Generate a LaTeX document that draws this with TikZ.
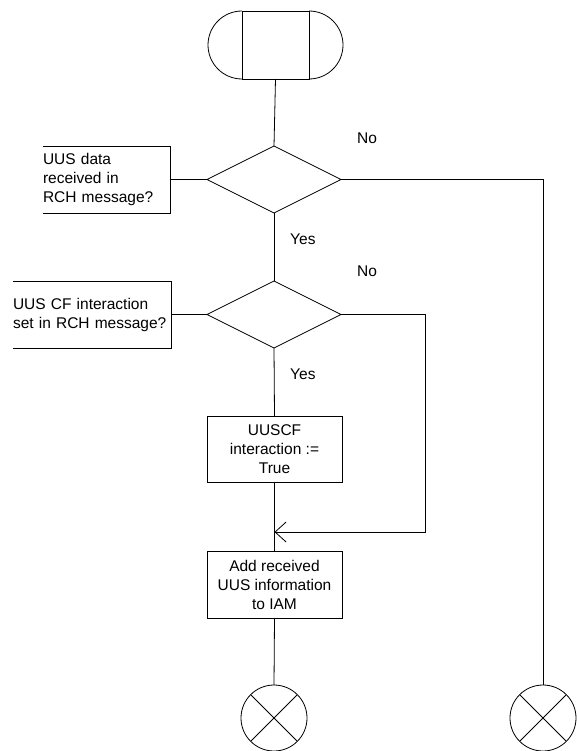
\documentclass[tikz,border=0pt]{standalone}
\usepackage{fontspec}
\setmainfont{Liberation Sans}
\usetikzlibrary{shapes.geometric,arrows.meta}
\begin{document}
\begin{tikzpicture}[x=1pt,y=-1pt,
  every node/.style={font=\fontsize{15.5}{19}\selectfont},
  ln/.style={line width=0.8pt,draw=black},
  procbox/.style={ln,draw,rectangle,minimum width=135pt,minimum height=66pt,inner sep=2pt,align=center,outer sep=0pt},
  sidebox/.style={rectangle,minimum height=67pt,inner sep=0pt,align=left,outer sep=0pt},
  decision/.style={ln,draw,diamond,aspect=2,minimum width=134pt,minimum height=67pt,inner sep=0pt,outer sep=0pt},
  endcirc/.style={ln,draw,circle,minimum size=66pt,inner sep=0pt,outer sep=0pt},
  lbl/.style={inner sep=0pt,anchor=west},
  arr/.style={ln,-{Straight Barb[length=11pt,width=20pt,line width=0.8pt]}}
]
\useasboundingbox (0,0) rectangle (576,751);

% start terminal
\node[rectangle,ln,draw,minimum width=67pt,minimum height=68pt,inner sep=0pt,outer sep=0pt] (start) at (275.5,45) {};
\draw[ln] (start.north west) arc[start angle=90,end angle=270,radius=34pt];
\draw[ln] (start.south east) arc[start angle=-90,end angle=90,radius=34pt];

% decisions
\node[decision] (d1) at (274,179.5) {};
\node[decision] (d2) at (274,314.5) {};

% side boxes (open on the left)
\node[sidebox,text width=127pt] (s1) at (106.5,179.5) {UUS data\\received in\\RCH message?};
\draw[ln] (s1.north west) -- (s1.north east) -- (s1.south east) -- (s1.south west);
\node[sidebox,text width=158pt] (s2) at (92,314.5) {UUS CF interaction\\set in RCH message?};
\draw[ln] (s2.north west) -- (s2.north east) -- (s2.south east) -- (s2.south west);

% process boxes
\node[procbox] (b3) at (274.5,449) {UUSCF\\interaction :=\\True};
\node[procbox,minimum height=67pt] (b4) at (274.5,584.5) {Add received\\UUS information\\to IAM};

% end circles
\node[endcirc] (e1) at (274,718) {};
\draw[ln] (e1.45) -- (e1.225) (e1.135) -- (e1.315);
\node[endcirc] (e2) at (543,718) {};
\draw[ln] (e2.45) -- (e2.225) (e2.135) -- (e2.315);

% connectors
\draw[ln] (start.south) -- (d1.north);
\draw[ln] (s1.east) -- (d1.west);
\draw[ln] (d1.south) -- (d2.north);
\draw[ln] (s2.east) -- (d2.west);
\draw[ln] (d2.south) -- (b3.north);
\draw[ln] (b3.south) -- (b4.north);
\draw[ln] (b4.south) -- (e1.north);
\draw[ln] (d1.east) -| (e2.north);
\coordinate (r2) at (425,314.5);
\coordinate (m) at (274.5,532);
\draw[arr] (d2.east) -- (r2) |- (m);

% labels
\node[lbl] (no1) at (357,138) {No};
\node[lbl] (yes1) at (290,239) {Yes};
\node[lbl] (no2) at (357,271) {No};
\node[lbl] (yes2) at (290,374) {Yes};
\end{tikzpicture}
\end{document}
